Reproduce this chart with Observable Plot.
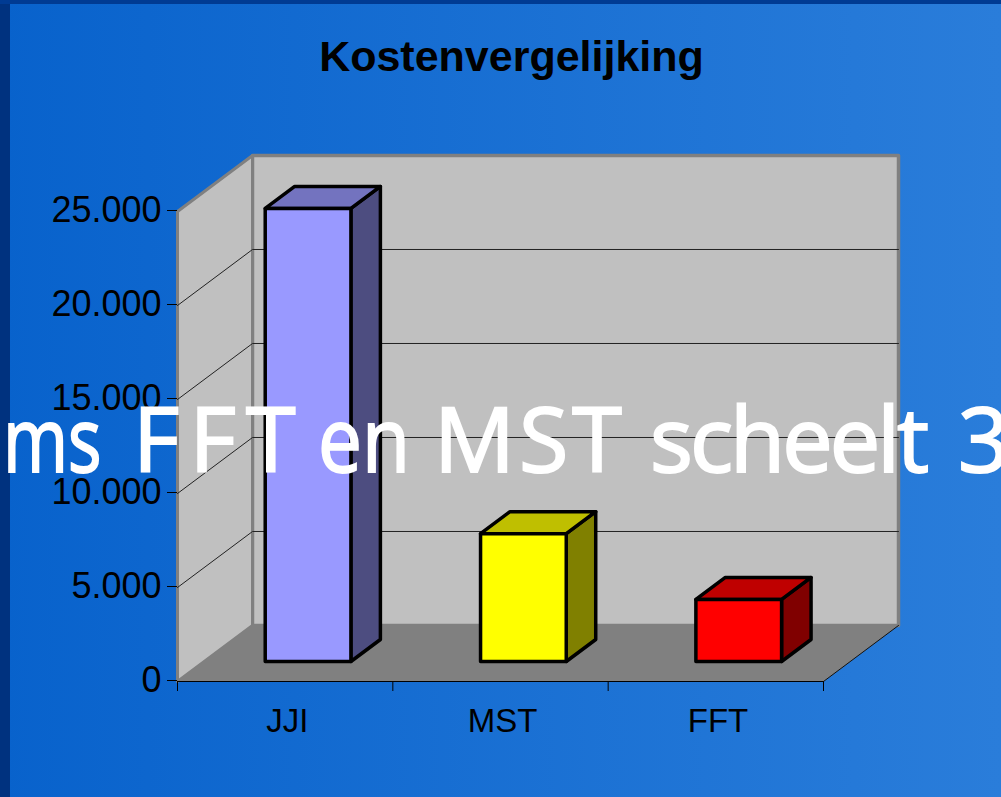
<!DOCTYPE html>
<html>
<head>
<meta charset="utf-8">
<script src="https://cdn.jsdelivr.net/npm/d3@7"></script>
<script src="https://cdn.jsdelivr.net/npm/@observablehq/plot@0.6"></script>
<style>
html,body{margin:0;padding:0;width:1001px;height:797px;overflow:hidden;}
body{position:relative;font-family:"Liberation Sans",Arial,sans-serif;
background:
 linear-gradient(#003b93,#003b93) left top/100% 4px no-repeat,
 linear-gradient(#00327f,#00327f) left top/10px 100% no-repeat,
 linear-gradient(90deg,#0862cc,#2a7dda);}
#title{position:absolute;left:11px;width:1001px;top:31px;margin:0;text-align:center;font-size:43px;line-height:50px;font-weight:bold;color:#000;}
#note{position:absolute;left:0;top:382px;width:1001px;height:124px;white-space:nowrap;color:#fff;font-family:"Open Sans",sans-serif;font-size:90px;line-height:110px;-webkit-text-stroke:2px #fff;}
#note span{position:absolute;top:0;transform-origin:left center;display:inline-block;}
svg{position:absolute;left:0;top:0;}
</style>
</head>
<body>
<h1 id="title">Kostenvergelijking</h1>
<div id="chart"></div>
<div id="note"><span style="left:-4px;transform:translateX(7px) scaleX(.78)">ms </span><span style="left:133px;letter-spacing:10px">FFT </span><span style="left:318px;transform:scaleX(.87)">en </span><span style="left:434px;letter-spacing:4px">MST </span><span style="left:650px;letter-spacing:-3px">scheelt </span><span style="left:958px">3</span></div>
<script>
const categories = ["JJI", "MST", "FFT"];
const costs = [24100, 6800, 3300];
const frontColors = ["#9999ff", "#ffff00", "#ff0000"];
const topColors = ["#7373bf", "#bfbf00", "#bf0000"];
const sideColors = ["#4d4d80", "#808000", "#800000"];
const yTicks = [0, 5000, 10000, 15000, 20000, 25000];
const gridValues = [5000, 10000, 15000, 20000];
const catEdges = [0, 1, 2, 3];

// oblique 3-D projection expressed in data units of the two scales
const depthX = 0.3483, depthY = 2979;
const P = (x, v, d = 0) => ({x: x + d * depthX, y: v + d * depthY});
const poly = (id, fill, pts) => [...pts, pts[0]].map(p => ({id, fill, ...p}));

const xMax = categories.length, yMax = 25000;
const backWall = poly("back", "#c0c0c0", [P(0,0,1), P(xMax,0,1), P(xMax,yMax,1), P(0,yMax,1)]);
const sideWall = poly("side", "#c0c0c0", [P(0,0,0), P(0,0,1), P(0,yMax,1), P(0,yMax,0)]);
const floor = poly("floor", "#808080", [P(0,0,0), P(xMax,0,0), P(xMax,0,1), P(0,0,1)]);
const grid = gridValues.map(v => [P(0,v,0), P(0,v,1), P(xMax,v,1)].map(p => ({id: v, ...p}))).flat();
const floorEdge = [P(xMax,0,0), P(xMax,0,1)];

const barWidth = 0.398, d0 = 0.357, d1 = 0.75, centre = 0.482;
const boxes = categories.flatMap((c, i) => {
  const a = i + centre - barWidth / 2, b = a + barWidth, v = costs[i];
  return [
    ...poly(c + "-side", sideColors[i], [P(b,0,d0), P(b,0,d1), P(b,v,d1), P(b,v,d0)]),
    ...poly(c + "-top", topColors[i], [P(a,v,d0), P(b,v,d0), P(b,v,d1), P(a,v,d1)]),
    ...poly(c + "-front", frontColors[i], [P(a,0,d0), P(b,0,d0), P(b,v,d0), P(a,v,d0)])
  ];
});

const chart = Plot.plot({
  width: 1001, height: 797,
  marginLeft: 177, marginRight: 178, marginTop: 211, marginBottom: 116,
  x: {domain: [0, xMax], axis: null},
  y: {domain: [0, yMax], axis: null},
  color: {type: "identity"},
  style: {background: "transparent", color: "#000", fontFamily: "'Liberation Sans',Arial,sans-serif", overflow: "visible"},
  marks: [
    Plot.line(floor, {x: "x", y: "y", z: "id", fill: "fill", stroke: null}),
    Plot.line(backWall, {x: "x", y: "y", z: "id", fill: "fill", stroke: "#808080", strokeWidth: 3.5, curve: "linear"}),
    Plot.line(sideWall, {x: "x", y: "y", z: "id", fill: "fill", stroke: "#808080", strokeWidth: 3, curve: "linear"}),
    Plot.line(floor, {x: "x", y: "y", z: "id", fill: "fill", stroke: null}),
    Plot.line(grid, {x: "x", y: "y", z: "id", stroke: "#222", strokeWidth: 1}),
    Plot.line(floorEdge, {x: "x", y: "y", stroke: "#111", strokeWidth: 1}),
    Plot.line(boxes, {x: "x", y: "y", z: "id", fill: "fill", stroke: "#000", strokeWidth: 3.5, strokeLinejoin: "round"}),
    Plot.ruleY([0], {stroke: "#000", strokeWidth: 1.2}),
    Plot.axisY({ticks: yTicks, tickSize: 10, tickPadding: 6, label: null, fontSize: 36, dy: -1,
      tickFormat: d => d3.format(",")(d).replace(/,/g, ".")}),
    Plot.axisX({ticks: catEdges, tickSize: 10, tickFormat: () => "", label: null}),
    Plot.text(categories, {x: (d, i) => i + 0.51, y: () => 0, text: d => d, dy: 40, fontSize: 33, fill: "#000"})
  ]
});
document.getElementById("chart").append(chart);
</script>
</body>
</html>
